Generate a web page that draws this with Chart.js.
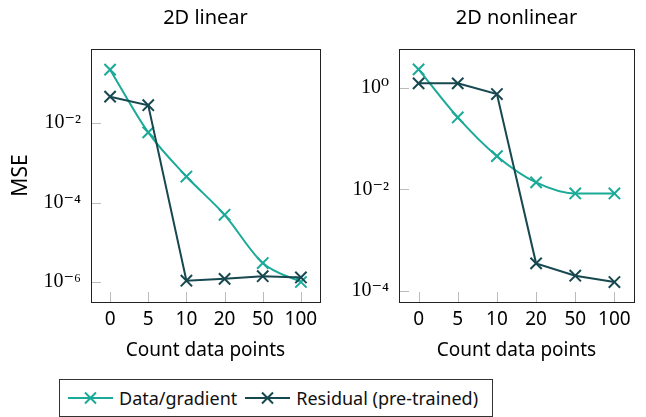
<!DOCTYPE html>
<html lang="en">
<head>
<meta charset="UTF-8">
<title>MSE vs count data points</title>
<script src="https://cdn.jsdelivr.net/npm/chart.js"></script>
<style>
  body { margin: 0; background: #fff; font-family: "Noto Sans", sans-serif; }
  #page { position: relative; width: 646px; height: 417px; overflow: hidden; }
  .panel { position: absolute; top: 0; height: 370px; }
  #left { left: 0; width: 330px; }
  #right { left: 330px; width: 316px; }
  #legend {
    position: absolute; left: 59px; top: 379px; width: 432px; height: 36px;
    border: 1px solid #333; display: flex; align-items: center;
    font-size: 18px; color: #111;
  }
  .item { display: flex; align-items: center; }
  .item svg { margin: 0 6px 0 8px; }
</style>
</head>
<body>
<div id="page">
  <div class="panel" id="left"><canvas id="linearChart"></canvas></div>
  <div class="panel" id="right"><canvas id="nonlinearChart"></canvas></div>
  <div id="legend"></div>
</div>

<script>
// x categories: count of data points
const categories = ['0', '5', '10', '20', '50', '100'];

// 2D linear
const linearGradient = [0.22, 0.0058, 4.5e-4, 4.9e-5, 3.0e-6, 1.0e-6];
const linearResidual = [0.046, 0.028, 1.08e-6, 1.2e-6, 1.4e-6, 1.3e-6];
const linearTicks = [1e-6, 1e-4, 1e-2];

// 2D nonlinear
const nonlinearGradient = [2.3, 0.26, 0.045, 0.0137, 0.0083, 0.0083];
const nonlinearResidual = [1.22, 1.22, 0.75, 3.5e-4, 2.0e-4, 1.5e-4];
const nonlinearTicks = [1e-4, 1e-2, 1];

const seriesNames = ['Data/gradient', 'Residual (pre-trained)'];
const seriesColors = ['#1aaa98', '#17484f'];

Chart.defaults.color = '#000';
Chart.defaults.font.family = '"Noto Sans", sans-serif';

const supMap = { '-': '\u207B', '0': '\u2070', '1': '\u00B9', '2': '\u00B2', '3': '\u00B3',
  '4': '\u2074', '5': '\u2075', '6': '\u2076', '7': '\u2077', '8': '\u2078', '9': '\u2079' };
function powLabel(v) {
  const e = String(Math.round(Math.log10(v)));
  return '10' + e.split('').map(c => supMap[c]).join('');
}

// inner tick marks + frame around the plot area
const frame = {
  id: 'frame',
  beforeDatasetsDraw(chart) {
    const { ctx, chartArea: a, scales } = chart;
    ctx.save();
    ctx.strokeStyle = '#bbbbbb';
    ctx.lineWidth = 1;
    ctx.beginPath();
    scales.x.ticks.forEach((t, i) => {
      const px = Math.round(scales.x.getPixelForTick(i)) + 0.5;
      ctx.moveTo(px, a.bottom);
      ctx.lineTo(px, a.bottom - 10);
    });
    scales.y.ticks.forEach((t, i) => {
      const py = Math.round(scales.y.getPixelForTick(i)) + 0.5;
      ctx.moveTo(a.left, py);
      ctx.lineTo(a.left + 10, py);
    });
    ctx.stroke();
    ctx.restore();
  },
  afterDraw(chart) {
    const { ctx, chartArea: a } = chart;
    ctx.save();
    ctx.strokeStyle = '#222';
    ctx.lineWidth = 1;
    ctx.strokeRect(Math.round(a.left) + 0.5, Math.round(a.top) + 0.5,
      Math.round(a.right - a.left), Math.round(a.bottom - a.top));
    ctx.restore();
  }
};

function makePanel(canvasId, title, gradVals, residVals, yMin, yMax, yTicks, yTitle, yWidth, padRight) {
  return new Chart(document.getElementById(canvasId), {
    type: 'line',
    data: {
      labels: categories,
      datasets: [
        {
          label: seriesNames[0],
          data: gradVals,
          borderColor: seriesColors[0],
          backgroundColor: seriesColors[0],
          borderWidth: 2,
          cubicInterpolationMode: 'monotone',
          pointStyle: 'crossRot',
          pointRadius: 8,
          pointBorderWidth: 2,
          order: 1
        },
        {
          label: seriesNames[1],
          data: residVals,
          borderColor: seriesColors[1],
          backgroundColor: seriesColors[1],
          borderWidth: 2,
          tension: 0,
          pointStyle: 'crossRot',
          pointRadius: 8,
          pointBorderWidth: 2,
          order: 0
        }
      ]
    },
    options: {
      responsive: true,
      maintainAspectRatio: false,
      animation: false,
      layout: { padding: { left: 0, right: padRight, top: 0, bottom: 0 } },
      plugins: {
        legend: { display: false },
        tooltip: { enabled: false },
        title: {
          display: true,
          fullSize: false,
          text: title,
          font: { size: 20, weight: 'normal' },
          padding: { top: 5.8, bottom: 19.2 }
        }
      },
      scales: {
        x: {
          type: 'category',
          offset: true,
          grid: { display: false, drawTicks: false },
          border: { display: false },
          ticks: { padding: 6, font: { size: 19 }, autoSkip: false, maxRotation: 0, minRotation: 0 },
          title: { display: true, text: 'Count data points', font: { size: 19 }, padding: { top: 0, bottom: 8 } },
          afterFit(scale) { scale.height = 68; }
        },
        y: {
          type: 'logarithmic',
          min: yMin,
          max: yMax,
          grid: { display: false, drawTicks: false },
          border: { display: false },
          afterBuildTicks(scale) { scale.ticks = yTicks.map(v => ({ value: v })); },
          ticks: {
            padding: 10,
            font: { family: '"Liberation Serif", "DejaVu Serif", serif', size: 20 },
            callback: v => powLabel(v)
          },
          title: { display: !!yTitle, text: yTitle, font: { size: 21 }, padding: { top: 8.7, bottom: 0 } },
          afterFit(scale) { scale.width = yWidth; }
        }
      }
    },
    plugins: [frame]
  });
}

makePanel('linearChart', '2D linear', linearGradient, linearResidual,
  Math.pow(10, -6.503), Math.pow(10, -0.138), linearTicks, 'MSE', 91, 5);
makePanel('nonlinearChart', '2D nonlinear', nonlinearGradient, nonlinearResidual,
  Math.pow(10, -4.2165), Math.pow(10, 0.762), nonlinearTicks, '', 69, 12);

// legend built from the same series names / colours
const legend = document.getElementById('legend');
seriesNames.forEach((name, i) => {
  const c = seriesColors[i];
  const item = document.createElement('div');
  item.className = 'item';
  item.innerHTML =
    '<svg width="45" height="14"><line x1="0" y1="7" x2="45" y2="7" stroke="' + c + '" stroke-width="2"/>' +
    '<path d="M17 1.5 L28 12.5 M28 1.5 L17 12.5" stroke="' + c + '" stroke-width="2"/></svg>' +
    '<span>' + name + '</span>';
  legend.appendChild(item);
});
</script>
</body>
</html>
